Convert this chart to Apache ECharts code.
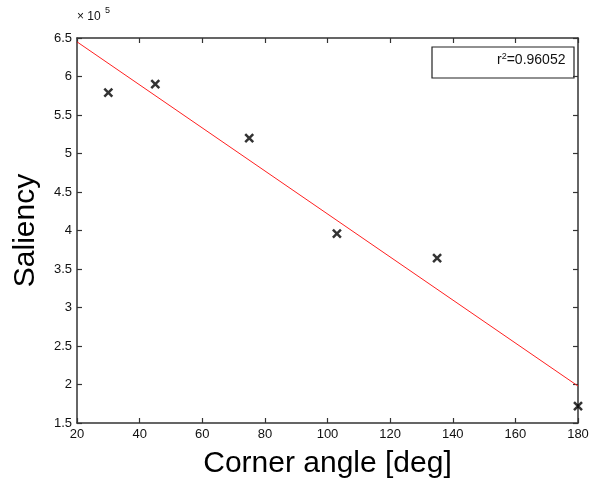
<!DOCTYPE html>
<html>
<head>
<meta charset="utf-8">
<script src="https://cdn.jsdelivr.net/npm/echarts@6/dist/echarts.min.js"></script>
<style>
html, body { margin: 0; padding: 0; background: #fff; }
#chart { width: 591px; height: 480px; }
</style>
</head>
<body>
<div id="chart"></div>
<script>
// measured points (saliency in units of 1e5)
var angles = [30, 45, 75, 103, 135, 180];
var saliency = [5.79, 5.90, 5.20, 3.96, 3.64, 1.72];
// fitted line end points
var fitX = [20, 180];
var fitY = [6.45, 1.98];
var xTicks = [20, 40, 60, 80, 100, 120, 140, 160, 180];
var yTicks = [1.5, 2, 2.5, 3, 3.5, 4, 4.5, 5, 5.5, 6, 6.5];

var chart = echarts.init(document.getElementById('chart'));

var crossPath = 'path://M0,0 L10,10 M10,0 L0,10';
var axisCol = '#333';
var font = 'Liberation Sans, Arial, sans-serif';

function boxAxis(pos, isX, show) {
	var a = {
		type: 'value',
		position: pos,
		min: isX ? 20 : 1.5,
		max: isX ? 180 : 6.5,
		interval: isX ? 20 : 0.5,
		axisLine: { show: true, lineStyle: { color: axisCol, width: 1.5 } },
		axisTick: { show: true, inside: true, length: 5, lineStyle: { color: axisCol, width: 1.2 } },
		splitLine: { show: false },
		axisLabel: {
			show: show,
			color: '#111',
			fontFamily: font,
			fontSize: 13,
			margin: 5,
			formatter: function (v) { return String(v); }
		}
	};
	return a;
}

var xMain = boxAxis('bottom', true, true);
xMain.name = 'Corner angle [deg]';
xMain.nameLocation = 'middle';
xMain.nameGap = 26;
xMain.nameTextStyle = { fontFamily: font, fontSize: 30, color: '#000' };
var xTop = boxAxis('top', true, false);

var yMain = boxAxis('left', false, true);
yMain.name = 'Saliency';
yMain.nameLocation = 'middle';
yMain.nameGap = 36;
yMain.nameTextStyle = { fontFamily: font, fontSize: 30, color: '#000' };
var yRight = boxAxis('right', false, false);

chart.setOption({
	backgroundColor: '#fff',
	animation: false,
	grid: { left: 77, right: 13, top: 38, bottom: 57, containLabel: false, outerBoundsMode: 'none' },
	xAxis: [xMain, xTop],
	yAxis: [yMain, yRight],
	graphic: [
		{
			type: 'text',
			left: 77, top: 11,
			style: { text: '× 10', fontFamily: font, fontSize: 12, fill: '#111' }
		},
		{
			type: 'text',
			left: 105, top: 6,
			style: { text: '5', fontFamily: font, fontSize: 9, fill: '#111' }
		},
		{
			type: 'rect',
			shape: { x: 432, y: 47, width: 142, height: 31 },
			style: { fill: '#fff', stroke: '#222', lineWidth: 1.2 }
		},
		{
			type: 'text',
			left: 497, top: 52,
			style: {
				rich: {
					a: { fontFamily: font, fontSize: 14, fill: '#111' },
					s: { fontFamily: font, fontSize: 9, fill: '#111', verticalAlign: 'top', padding: [0, 0, 8, 0] }
				},
				text: '{a|r}{s|2}{a|=0.96052}'
			}
		}
	],
	series: [
		{
			type: 'line',
			data: fitX.map(function (x, i) { return [x, fitY[i]]; }),
			symbol: 'none',
			lineStyle: { color: '#ff2020', width: 1 },
			z: 2
		},
		{
			type: 'scatter',
			data: angles.map(function (x, i) { return [x, saliency[i]]; }),
			symbol: crossPath,
			symbolSize: 8,
			itemStyle: { color: 'none', borderColor: '#000', borderWidth: 2.5 },
			z: 3
		}
	]
});
</script>
</body>
</html>
